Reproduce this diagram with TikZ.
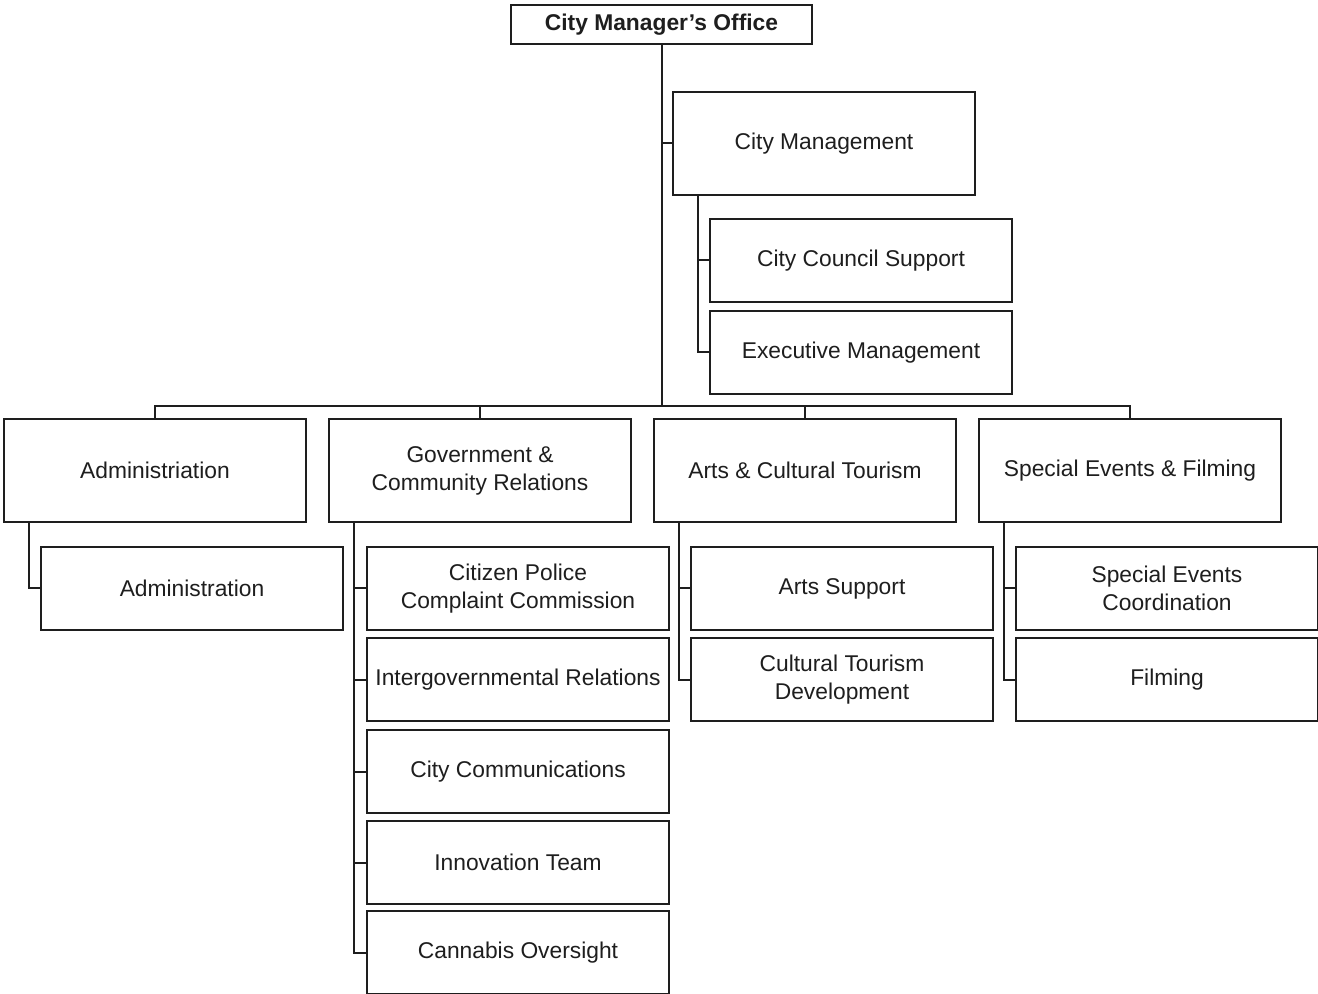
\documentclass[tikz,border=0pt]{standalone}
\usepackage{fontspec}
\setmainfont{Liberation Sans}
\definecolor{ink}{HTML}{1E1E1E}
\begin{document}
\begin{tikzpicture}[x=0.5pt,y=-0.5pt,
  box/.style={draw=ink, line width=1pt, fill=white, anchor=north west, align=center,
    font=\fontsize{11.4}{14}\selectfont, text=ink, inner sep=0pt},
  lvltwo/.style={box, minimum width=151pt, minimum height=51.5pt},
  lvlthree/.style={box, minimum width=151pt, minimum height=41.5pt},
  link/.style={draw=ink, line width=1pt}]
\useasboundingbox (0,0) rectangle (1318,994);

% nodes
\node[box, minimum width=150.5pt, minimum height=19.5pt,
  font={\fontsize{11.4}{14}\selectfont\bfseries}] (top) at (510,4) {City Manager’s Office};
\node[lvltwo] (cm) at (672,91) {City Management};
\node[lvlthree] (ccs) at (709,218) {City Council Support};
\node[lvlthree] (exm) at (709,310) {Executive Management};

\node[lvltwo] (adm) at (3,418) {Administriation};
\node[lvltwo] (gov) at (328,418) {Government \&\\Community Relations};
\node[lvltwo] (art) at (653,418) {Arts \& Cultural Tourism};
\node[lvltwo] (spe) at (978,418) {Special Events \& Filming};

\node[lvlthree] (adma) at (40,546) {Administration};

\node[lvlthree] (ga) at (366,546) {Citizen Police\\Complaint Commission};
\node[lvlthree] (gb) at (366,637) {Intergovernmental Relations};
\node[lvlthree] (gc) at (366,729) {City Communications};
\node[lvlthree] (gd) at (366,820) {Innovation Team};
\node[lvlthree] (ge) at (366,910) {Cannabis Oversight};

\node[lvlthree] (aa) at (690,546) {Arts Support};
\node[lvlthree] (ab) at (690,637) {Cultural Tourism\\Development};

\node[lvlthree] (sa) at (1015,546) {Special Events\\Coordination};
\node[lvlthree] (sb) at (1015,637) {Filming};

\coordinate (bus) at (top.south |- 0,406);

% connectors
\draw[link] (top.south) -- (bus);
\draw[link] (top.south |- cm.west) -- (cm.west);
\draw[link] (adm.north) |- (spe.north |- bus) -- (spe.north);
\draw[link] (gov.north) -- (gov.north |- bus);
\draw[link] (art.north) -- (art.north |- bus);

\draw[link] ([xshift=13pt]cm.south west) |- (ccs.west);
\draw[link] ([xshift=13pt]cm.south west) |- (exm.west);

\draw[link] ([xshift=13pt]adm.south west) |- (adma.west);

\foreach \c in {ga,gb,gc,gd,ge}
  \draw[link] ([xshift=13pt]gov.south west) |- (\c.west);
\foreach \c in {aa,ab}
  \draw[link] ([xshift=13pt]art.south west) |- (\c.west);
\foreach \c in {sa,sb}
  \draw[link] ([xshift=13pt]spe.south west) |- (\c.west);
\end{tikzpicture}
\end{document}
